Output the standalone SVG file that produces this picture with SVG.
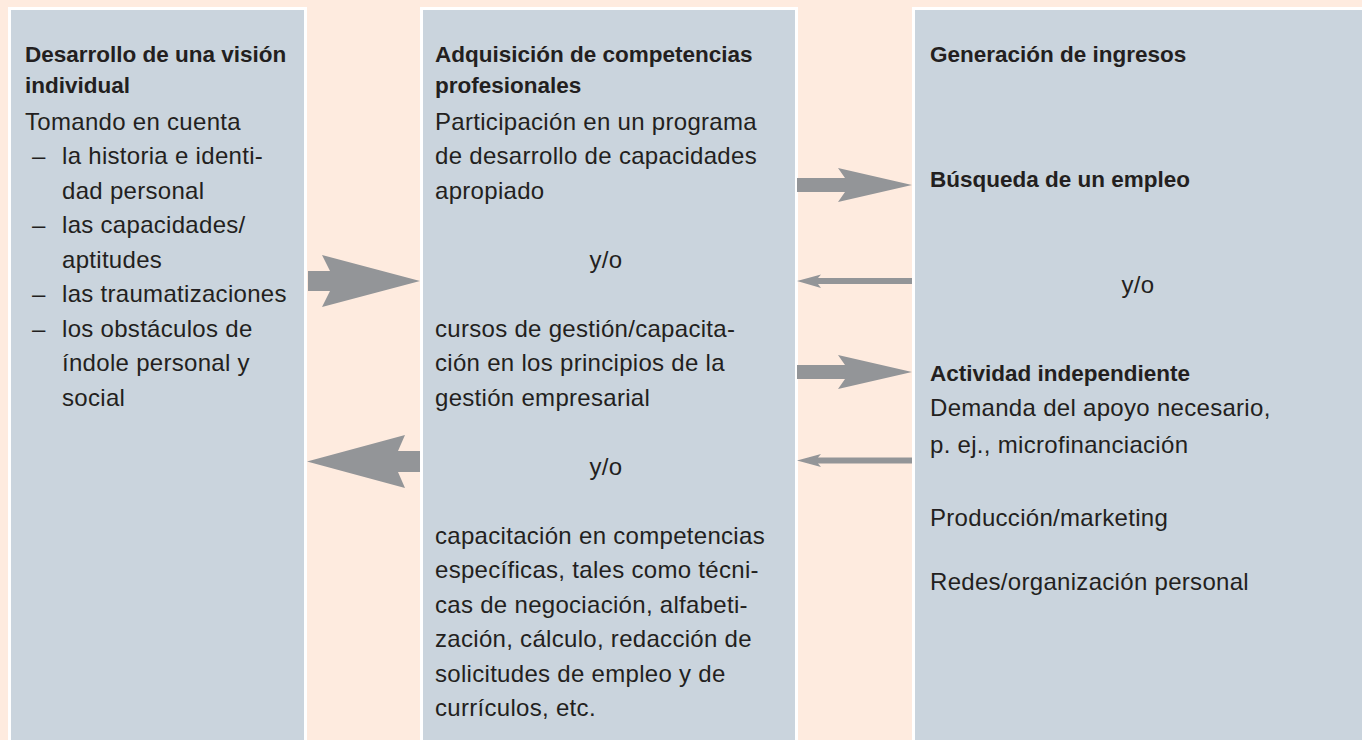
<svg xmlns="http://www.w3.org/2000/svg" width="1362" height="740" viewBox="0 0 1362 740">
<style>
.box{fill:#cad4dd;stroke:#ffffff;stroke-width:3}
.arr{fill:#939598}
text{font-family:"Liberation Sans","Noto Sans",sans-serif;font-size:24px;letter-spacing:0.3px;fill:#231f20}
.b{font-weight:bold;font-size:22.5px;letter-spacing:0}
.c{text-anchor:middle}
</style>
<rect x="0" y="0" width="1362" height="740" fill="#feebdf"/>
<g id="node-vision">
<rect class="box" x="9.5" y="8.5" width="296" height="800"/>
<text class="b" x="25" y="62">Desarrollo de una visión</text>
<text class="b" x="25" y="93">individual</text>
<text x="25" y="129.5">Tomando en cuenta</text>
<text x="32" y="164">–</text><text x="62" y="164">la historia e identi-</text>
<text x="62" y="198.5">dad personal</text>
<text x="32" y="233">–</text><text x="62" y="233">las capacidades/</text>
<text x="62" y="267.5">aptitudes</text>
<text x="32" y="302">–</text><text x="62" y="302">las traumatizaciones</text>
<text x="32" y="336.5">–</text><text x="62" y="336.5">los obstáculos de</text>
<text x="62" y="371">índole personal y</text>
<text x="62" y="405.5">social</text>
</g>
<g id="node-competencias">
<rect class="box" x="421.5" y="8.5" width="375" height="800"/>
<text class="b" x="435" y="62">Adquisición de competencias</text>
<text class="b" x="435" y="93">profesionales</text>
<text x="435" y="129.5">Participación en un programa</text>
<text x="435" y="164">de desarrollo de capacidades</text>
<text x="435" y="198.5">apropiado</text>
<text class="c" x="606" y="267.5">y/o</text>
<text x="435" y="336.5">cursos de gestión/capacita-</text>
<text x="435" y="371">ción en los principios de la</text>
<text x="435" y="405.5">gestión empresarial</text>
<text class="c" x="606" y="474.5">y/o</text>
<text x="435" y="543.5">capacitación en competencias</text>
<text x="435" y="578">específicas, tales como técni-</text>
<text x="435" y="612.5">cas de negociación, alfabeti-</text>
<text x="435" y="647">zación, cálculo, redacción de</text>
<text x="435" y="681.5">solicitudes de empleo y de</text>
<text x="435" y="716">currículos, etc.</text>
</g>
<g id="node-ingresos">
<rect class="box" x="913.5" y="8.5" width="500" height="800"/>
<text class="b" x="930" y="62">Generación de ingresos</text>
<text class="b" x="930" y="187">Búsqueda de un empleo</text>
<text class="c" x="1138" y="293">y/o</text>
<text class="b" x="930" y="381">Actividad independiente</text>
<text x="930" y="416">Demanda del apoyo necesario,</text>
<text x="930" y="453">p. ej., microfinanciación</text>
<text x="930" y="526">Producción/marketing</text>
<text x="930" y="590">Redes/organización personal</text>
</g>
<g id="connectors">
<polygon class="arr" points="308,271 330,271 322,255 420,281 322,307 330,291 308,291"/>
<polygon class="arr" points="420,451 398,451 405,435 307,461.5 405,488 398,472 420,472"/>
<polygon class="arr" points="797,178 845,178 838,168 912,185 838,202 845,192 797,192"/>
<polygon class="arr" points="797,365 845,365 838,355 912,372 838,389 845,379 797,379"/>
<polygon class="arr" points="912,278 818,278 821,274.5 797,281 821,288 818,284 912,284"/>
<polygon class="arr" points="912,457.5 818,457.5 821,454 797,460.5 821,467 818,463.5 912,463.5"/>
</g>
</svg>
